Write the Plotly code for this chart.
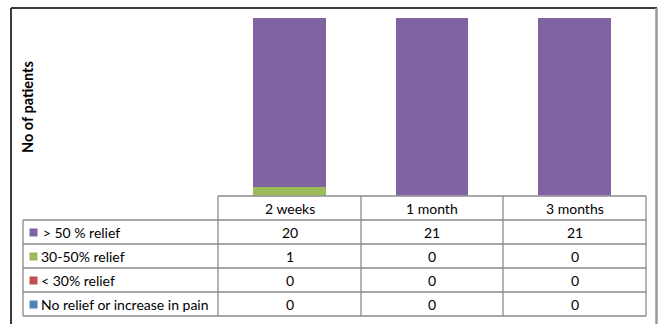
import plotly.graph_objects as go

# Follow-up time points and pain relief outcome counts
periods = ["2 weeks", "1 month", "3 months"]
relief_gt50 = [20, 21, 21]
relief_30_50 = [1, 0, 0]
relief_lt30 = [0, 0, 0]
no_relief = [0, 0, 0]

series_names = ["> 50 % relief", "30-50% relief", "< 30% relief", "No relief or increase in pain"]
series_colors = ["#8064A2", "#9BBB59", "#C0504D", "#4F81BD"]
series_values = [relief_gt50, relief_30_50, relief_lt30, no_relief]

W, H = 659, 324
FONT = "Lato"

def px_x(x):
    return x / W

def px_y(y):
    return 1 - y / H

# Layout of the chart area and the data table (pixels)
plot_left, plot_right = 218, 646
plot_top, plot_bottom = 14, 195.5
label_left = 23
header_top, header_bottom = 196, 220
row_edges = [220, 244, 268, 292, 316]
col_edges = [218, 361, 503, 646]

fig = go.Figure()

# Stacked bars drawn bottom-up: no relief, <30%, 30-50%, >50%
for name, color, vals in reversed(list(zip(series_names, series_colors, series_values))):
    fig.add_trace(go.Bar(
        x=periods, y=vals, name=name, marker=dict(color=color, line=dict(width=0)),
        width=0.51, showlegend=False,
    ))

ymax = 21 * (plot_bottom - plot_top) / (plot_bottom - 18)
fig.update_layout(
    width=W, height=H,
    margin=dict(l=0, r=0, t=0, b=0),
    paper_bgcolor="white", plot_bgcolor="white",
    barmode="stack",
    bargap=0,
    xaxis=dict(domain=[px_x(plot_left), px_x(plot_right)], range=[-0.5, 2.5],
               showticklabels=False, showgrid=False, zeroline=False, showline=False,
               fixedrange=True),
    yaxis=dict(domain=[px_y(plot_bottom), px_y(plot_top)], range=[0, ymax],
               showticklabels=False, showgrid=False, zeroline=False, showline=False,
               fixedrange=True),
    font=dict(family=FONT, size=14, color="#000000"),
)

shapes = []
grid = dict(color="#8a8a8a", width=1.3)

def hline(x0, x1, y, line=grid):
    shapes.append(dict(type="line", xref="paper", yref="paper",
                       x0=px_x(x0), x1=px_x(x1), y0=px_y(y), y1=px_y(y), line=line))

def vline(x, y0, y1, line=grid):
    shapes.append(dict(type="line", xref="paper", yref="paper",
                       x0=px_x(x), x1=px_x(x), y0=px_y(y0), y1=px_y(y1), line=line))

# Outer chart frame
frame_dark = dict(color="#3a3a3a", width=2)
hline(11, 657, 8, frame_dark)
vline(11, 8, 324, frame_dark)
vline(656.5, 8, 324, dict(color="#9a9a9a", width=2.5))

# Header row of the data table
hline(plot_left, plot_right, header_top)
for cx in col_edges:
    vline(cx, header_top, row_edges[-1])
# Data rows
for ry in row_edges:
    hline(label_left, plot_right, ry)
vline(label_left, row_edges[0], row_edges[-1])

annotations = []
# Column headers
for i, p in enumerate(periods):
    cx = (col_edges[i] + col_edges[i + 1]) / 2
    annotations.append(dict(x=px_x(cx), y=px_y((header_top + header_bottom) / 2),
                            xref="paper", yref="paper", text=p, showarrow=False,
                            xanchor="center", yanchor="middle"))

# Table rows: legend key, series name and the values
for r, (name, color, vals) in enumerate(zip(series_names, series_colors, series_values)):
    y0, y1 = row_edges[r], row_edges[r + 1]
    ym = (y0 + y1) / 2
    shapes.append(dict(type="rect", xref="paper", yref="paper",
                       x0=px_x(29.5), x1=px_x(37.5), y0=px_y(ym + 4.5), y1=px_y(ym - 3.5),
                       fillcolor=color, line=dict(width=0)))
    label = name if r != 0 else "\u2009" + name
    annotations.append(dict(x=px_x(39), y=px_y(ym), xref="paper", yref="paper",
                            text=label, showarrow=False, xanchor="left", yanchor="middle"))
    for i, v in enumerate(vals):
        cx = (col_edges[i] + col_edges[i + 1]) / 2
        annotations.append(dict(x=px_x(cx), y=px_y(ym), xref="paper", yref="paper",
                                text=str(v), showarrow=False, xanchor="center", yanchor="middle"))

# Vertical axis title
annotations.append(dict(x=px_x(27), y=px_y(107), xref="paper", yref="paper",
                        text="<b>No of patients</b>", textangle=-90, showarrow=False,
                        xanchor="center", yanchor="middle", font=dict(size=14.5)))

fig.update_layout(shapes=shapes, annotations=annotations)
fig.write_html("out.html")
